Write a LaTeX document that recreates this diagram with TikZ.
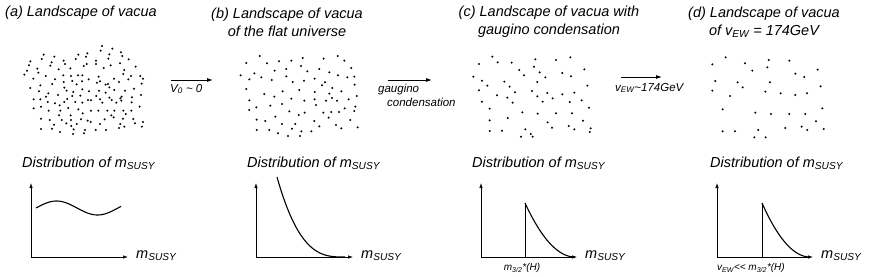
\documentclass[tikz,border=0pt]{standalone}
\usepackage{fontspec}
\setmainfont{Liberation Sans}
\usepackage{tikz}
\usetikzlibrary{arrows.meta,positioning}

\tikzset{
  title/.style={font=\fontsize{14.5}{18}\selectfont\itshape, align=center, inner sep=0pt},
  distlabel/.style={font=\fontsize{14.5}{18}\selectfont\itshape, anchor=west, inner sep=0pt},
  axislabel/.style={font=\fontsize{14.5}{18}\selectfont\itshape, inner sep=0pt},
  steplabel/.style={font=\fontsize{11.5}{14}\selectfont\itshape, align=left, inner sep=0pt},
  ticklabel/.style={font=\fontsize{10}{12}\selectfont\itshape, inner sep=0pt},
  axis/.style={line width=0.7pt, -{Latex[length=5pt,width=3.5pt]}},
  steparrow/.style={line width=0.9pt, -{Latex[length=6pt,width=4pt]}},
  curve/.style={line width=1.1pt},
  vac/.style={fill=black}
}

\begin{document}
\begin{tikzpicture}[x=1pt,y=-1pt]
    \useasboundingbox (0,0) rectangle (872,276);

    % titles
    \node[title,anchor=west] (ta) at (5,13) {(a) Landscape of vacua};
    \node[title] (tb) at (287,22) {(b) Landscape of vacua\\of the flat universe};
    \node[title] (tc) at (549,22) {(c) Landscape of vacua with\\gaugino condensation};
    \node[title] (td) at (764,22) {(d) Landscape of vacua\\of v\textsubscript{EW} = 174GeV};

    % landscapes of vacua
    \begin{scope}[shift={(15,40)},x=0.3333pt,y=-0.3333pt]
        \foreach \px/\py in {261/18, 292/26, 257/32, 86/44, 118/50, 190/44, 217/40, 283/43, 318/37, 322/48, 46/64, 80/57, 146/62, 182/57, 213/50, 243/62, 280/56, 341/58, 42/76, 110/67, 150/72, 206/78, 215/72, 243/72, 287/76, 315/70, 36/92, 67/86, 106/77, 131/88, 166/85, 266/84, 328/90, 362/80, 28/104, 70/98, 92/108, 145/106, 168/108, 189/106, 202/106, 221/118, 251/110, 255/124, 297/116, 325/102, 348/108, 376/108, 55/116, 120/118, 172/123, 272/134, 279/132, 283/142, 312/126, 340/118, 384/116, 76/136, 112/132, 146/126, 185/133, 201/124, 246/128, 380/131, 46/144, 72/154, 100/160, 148/143, 155/152, 175/156, 202/148, 222/154, 252/152, 272/158, 298/150, 330/152, 357/146, 93/170, 129/165, 172/168, 196/167, 244/168, 283/173, 316/175, 320/170, 351/172, 378/165, 56/178, 76/178, 157/177, 219/180, 228/181, 255/178, 290/180, 319/182, 98/186, 120/190, 148/186, 134/196, 181/186, 202/188, 262/188, 304/188, 350/187, 56/205, 78/200, 101/212, 136/212, 160/204, 190/208, 228/212, 250/212, 277/212, 298/212, 325/212, 349/212, 374/200, 132/226, 167/226, 203/220, 289/226, 332/222, 78/236, 104/240, 140/240, 168/240, 198/238, 218/242, 269/238, 296/232, 324/236, 355/237, 384/246, 117/254, 154/250, 169/258, 185/252, 227/246, 255/252, 316/252, 360/250, 78/267, 111/266, 135/276, 176/268, 210/270, 242/270, 273/270, 312/264, 328/260, 381/260, 174/282, 207/280}
            \fill[vac] (\px,\py) circle (1.1pt);
    \end{scope}
    \begin{scope}[shift={(232,50)},x=0.3333pt,y=-0.3333pt]
        \foreach \px/\py in {83/18, 43/39, 105/40, 141/34, 178/32, 212/24, 275/26, 317/18, 337/32, 207/48, 163/57, 128/62, 262/57, 292/67, 358/54, 26/76, 67/70, 88/82, 52/88, 119/90, 163/79, 182/96, 216/92, 226/64, 248/86, 318/76, 346/82, 367/80, 279/97, 270/106, 301/114, 368/104, 43/117, 97/132, 127/140, 152/124, 202/120, 248/126, 292/131, 300/144, 328/124, 374/138, 52/151, 115/167, 150/162, 178/146, 217/152, 248/148, 252/165, 282/152, 315/152, 350/148, 52/180, 73/172, 172/184, 200/195, 218/188, 274/188, 298/186, 321/186, 338/175, 370/170, 367/183, 130/200, 290/203, 74/209, 100/213, 150/222, 190/222, 247/213, 262/229, 312/225, 328/235, 355/210, 377/232, 74/240, 112/240, 138/250, 180/236, 208/244, 238/244, 168/258, 204/258}
            \fill[vac] (\px,\py) circle (1.1pt);
    \end{scope}
    \begin{scope}[shift={(470,50)},x=0.3333pt,y=-0.3333pt]
        \foreach \px/\py in {67/20, 27/42, 83/37, 125/38, 196/28, 258/30, 301/22, 192/50, 148/60, 162/76, 209/67, 226/82, 277/69, 303/79, 343/58, 10/80, 36/92, 52/107, 103/95, 119/110, 135/127, 81/136, 112/143, 128/158, 186/123, 202/96, 202/139, 218/155, 232/129, 248/145, 277/133, 313/128, 299/156, 335/151, 352/107, 27/121, 36/155, 59/176, 157/187, 203/191, 258/190, 306/190, 357/173, 59/211, 113/204, 233/217, 246/233, 296/228, 313/238, 339/212, 362/235, 359/246, 59/243, 96/242, 166/238, 182/252, 188/260, 153/260}
            \fill[vac] (\px,\py) circle (1.1pt);
    \end{scope}
    \begin{scope}[shift={(700,50)},x=0.3333pt,y=-0.3333pt]
        \foreach \px/\py in {77/22, 37/43, 135/40, 206/30, 268/32, 157/62, 202/52, 286/71, 313/81, 353/59, 46/93, 113/97, 128/112, 210/97, 362/109, 37/122, 90/138, 196/125, 242/130, 286/135, 321/130, 68/178, 166/188, 213/192, 268/192, 316/192, 367/175, 348/214, 175/240, 256/234, 305/230, 322/240, 371/237, 68/244, 105/244, 163/262, 197/262}
            \fill[vac] (\px,\py) circle (1.1pt);
    \end{scope}

    % steps between the landscapes
    \coordinate (ab1) at (171,80);
    \coordinate (ab2) at (213,80);
    \coordinate (bc1) at (388,80);
    \coordinate (bc2) at (432,80);
    \coordinate (cd1) at (621,77);
    \coordinate (cd2) at (662,77);
    \draw[steparrow] (ab1) -- (ab2);
    \draw[steparrow] (bc1) -- (bc2);
    \draw[steparrow] (cd1) -- (cd2);
    \node[steplabel,anchor=west] (sab) at (170,89) {V\textsubscript{0} \textasciitilde\ 0};
    \node[steplabel,anchor=north west] (sbc) at (378,84) {gaugino\\\hspace*{9pt}condensation};
    \node[steplabel,anchor=west] (scd) at (615,88) {v\textsubscript{EW}\textasciitilde174GeV};

    % distributions of m_SUSY
    \foreach \n/\ox/\xe/\lx in {a/31/128/22, b/256/353/247, c/481/577/472, d/717/813/710}{
        \node[distlabel] (dist\n) at (\lx,163) {Distribution of m\textsubscript{SUSY}};
        \coordinate (o\n) at (\ox,257);
        \coordinate (y\n) at (\ox,183);
        \coordinate (x\n) at (\xe,257);
        \node[axislabel,right=8pt of x\n,yshift=1pt] (m\n) {m\textsubscript{SUSY}};
        \draw[axis] (o\n) -- (y\n);
        \draw[axis] (o\n) -- (x\n);
    }
    \draw[curve] plot[smooth,samples=40,domain=36:121] (\x,{208-7*sin((\x-36)*4.39)});
    \draw[curve] plot[smooth,samples=40,domain=277:345] (\x,{257-80*pow((345-\x)/68,3)});
    \draw[curve] plot[smooth,samples=40,domain=525:575] (\x,{257-54*pow((575-\x)/50,2)});
    \draw[curve] plot[smooth,samples=40,domain=762:810] (\x,{257-54*pow((810-\x)/48,2)});

    % cut-offs
    \coordinate (pc) at (525,257);
    \coordinate (qc) at (525,203);
    \coordinate (pd) at (762,257);
    \coordinate (qd) at (762,203);
    \draw[line width=0.7pt] (pc) -- (qc);
    \draw[line width=0.7pt] (pd) -- (qd);
    \node[ticklabel] (kc) at (522,268) {m\textsubscript{3/2}*(H)};
    \node[ticklabel] (kd) at (751,268) {v\textsubscript{EW}<\kern0pt< m\textsubscript{3/2}*(H)};
\end{tikzpicture}
\end{document}
